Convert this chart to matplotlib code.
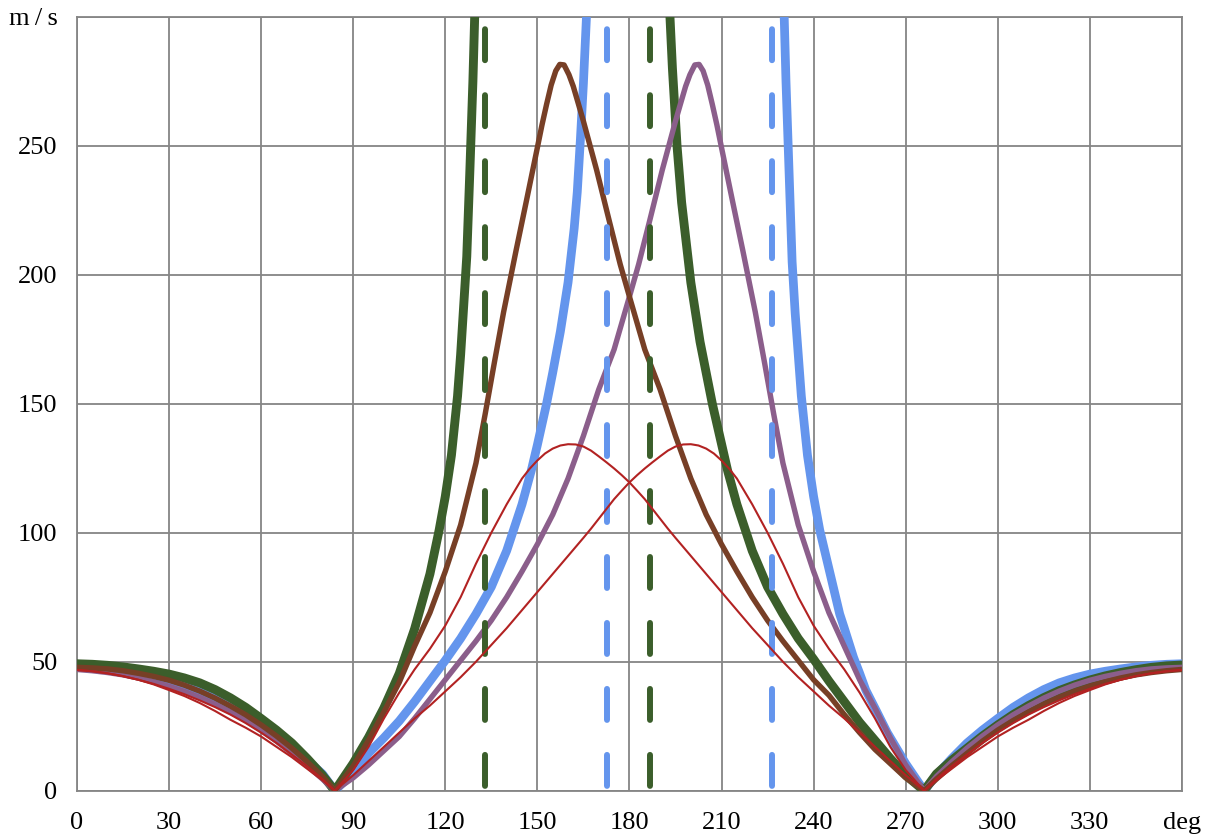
import numpy as np
import matplotlib.pyplot as plt

plt.rcParams['font.family'] = ['Liberation Serif', 'DejaVu Serif']
plt.rcParams['lines.scale_dashes'] = False

nan = np.nan

# 속도 곡선 (deg, m/s)
green_deg = [0, 5, 10, 15, 20, 25, 30, 35, 40, 45, 50, 55, 60, 65, 70, 75, 80, 84,
             90, 95, 100, 105, 110, 115, 118, 120, 122, 124, 125, 126, 127, 128, 129, 130, 131,
             160,
             192, 193, 194, 195.5, 197, 200, 203, 207, 212, 215, 220, 225, 230, 235, 240, 245,
             250, 255, 260, 265, 270, 276,
             280, 285, 290, 295, 300, 305, 310, 315, 320, 325, 330, 335, 340, 345, 350, 355, 360]
green_v = [49.2, 49.0, 48.6, 48.0, 47.2, 46.3, 45.2, 43.7, 41.8, 39.2, 36.0, 32.3, 28.0, 23.5, 18.5, 12.5, 6.0, 0,
           10.6, 20.7, 32.1, 45.4, 62.7, 84.0, 101, 114, 130, 153, 169, 188, 207, 240, 275, 318, 370,
           nan,
           345, 305, 280, 250, 228, 197, 174, 150, 124, 111, 93, 79, 68.5, 59, 51, 42.5,
           34.5, 26.5, 19.5, 12.5, 6.0, 0,
           6.5, 11.8, 16.5, 21.2, 25.5, 29.5, 33.0, 36.1, 38.8, 41.0, 42.9, 44.5, 45.8, 46.9, 47.8, 48.4, 48.7]

blue_deg = [0, 5, 10, 15, 20, 25, 30, 35, 40, 45, 50, 55, 60, 65, 70, 75, 80, 84,
            90, 95, 100, 105, 110, 115, 120, 125, 130, 135, 140, 145, 148, 150, 153, 155, 157.5,
            160, 162, 163, 164, 165, 166, 167,
            200,
            229, 230, 231, 232, 233, 234, 236, 238, 240, 242, 245, 248.5, 250, 253, 255, 257, 260,
            264, 270, 276,
            280, 285, 290, 295, 300, 305, 310, 315, 320, 325, 330, 335, 340, 345, 350, 355, 360]
blue_v = [48.7, 48.4, 47.8, 46.9, 45.8, 44.5, 42.9, 41.0, 38.8, 36.1, 33.0, 29.5, 25.5, 21.2, 16.5, 11.8, 6.5, 0,
          7.0, 14.5, 20.5, 27.0, 34.5, 42.5, 50.5, 59, 68.5, 79, 93, 111, 124, 134, 150, 162, 178,
          197, 218, 232, 252, 274, 300, 330,
          nan,
          370, 318, 275, 240, 205, 185, 153, 130, 114, 101, 86, 68.5, 63, 51.7, 45.5, 39, 32,
          22.5, 10.5, 0,
          6.0, 12.5, 18.5, 23.5, 28.0, 32.3, 36.0, 39.2, 41.8, 43.7, 45.2, 46.3, 47.2, 48.0, 48.6, 49.0, 49.2]

brown_deg = [0, 5, 10, 15, 20, 25, 30, 35, 40, 45, 50, 55, 60, 65, 70, 75, 80, 84,
             90, 95, 100, 105, 110, 115, 120, 125, 130, 133, 136, 139, 143, 146.5, 149.7, 151.5,
             153, 154.5, 156, 157.3, 158.7, 160.3, 161.7, 163.3, 165, 169.3, 173.6, 177, 180,
             185, 190, 195, 200, 205, 210, 215, 220, 225, 230, 235, 240, 245, 250, 255, 260, 265,
             270, 276,
             280, 285, 290, 295, 300, 305, 310, 315, 320, 325, 330, 335, 340, 345, 350, 355, 360]
brown_v = [47.8, 47.6, 47.2, 46.5, 45.5, 44.3, 42.8, 40.9, 38.6, 35.9, 32.8, 29.4, 25.5, 21.2, 16.5, 11.2, 5.5, 0,
           9.5, 19.5, 30.5, 42, 56, 69, 85, 103, 127, 146, 166, 185.5, 209, 229, 247.5, 258,
           266, 273.5, 279, 281.5, 281.3, 277.5, 273, 266.5, 259.5, 240.6, 220, 204, 191.5,
           171, 155.5, 137.5, 121, 107, 95.5, 85, 75, 66, 58, 50.5, 43, 37, 29.5, 22.5, 16, 10.5,
           5, 0,
           4.5, 9.7, 14.5, 19.2, 23.5, 27.2, 30.5, 33.5, 36.2, 38.5, 40.5, 42.2, 43.7, 44.9, 45.8, 46.5, 47.0]

purple_deg = [0, 5, 10, 15, 20, 25, 30, 35, 40, 45, 50, 55, 60, 65, 70, 75, 80, 84,
              90, 95, 100, 105, 110, 115, 120, 125, 130, 135, 140, 145, 150, 155, 160, 165, 170,
              175, 180, 183, 186.4, 190.7, 195, 196.7, 198.3, 199.7, 201.3, 202.7, 204, 205.5,
              207, 208.5, 210.3, 213.5, 217, 221, 224, 227, 230, 235, 240, 245, 250, 255, 260,
              265, 270, 276,
              280, 285, 290, 295, 300, 305, 310, 315, 320, 325, 330, 335, 340, 345, 350, 355, 360]
purple_v = [47.0, 46.5, 45.8, 44.9, 43.7, 42.2, 40.5, 38.5, 36.2, 33.5, 30.5, 27.2, 23.5, 19.2, 14.5, 9.7, 4.5, 0,
            5, 10, 15.5, 21, 28, 35.5, 43, 50.5, 58, 66, 75, 85, 95.5, 107, 121, 137.5, 155.5,
            171, 191.5, 204, 220, 240.6, 259.5, 266.5, 273, 277.5, 281.3, 281.5, 279, 273.5,
            266, 258, 247.5, 229, 209, 185.5, 166, 146, 127, 103, 85, 69, 56, 43, 32,
            20.5, 10, 0,
            5.5, 11.2, 16.5, 21.2, 25.5, 29.4, 32.8, 35.9, 38.6, 40.9, 42.8, 44.3, 45.5, 46.5, 47.2, 47.6, 47.8]

red_deg = [0, 5, 10, 15, 20, 25, 30, 35, 40, 45, 50, 55, 60, 65, 70, 75, 80, 84,
           90, 95, 100, 105, 110, 115, 120, 125, 130, 135, 140, 145, 147.5, 150, 152.5, 155,
           157.5, 160, 162.5, 165, 167.5, 170, 172.5, 175, 177.5, 180, 182.5, 185, 187.5, 190,
           192.5, 195, 197.5, 200, 202.5, 205, 207.5, 210, 212.5, 215, 220, 225, 230, 235, 240,
           245, 250, 255, 260, 265, 270, 276,
           280, 285, 290, 295, 300, 305, 310, 315, 320, 325, 330, 335, 340, 345, 350, 355, 360]
red1_v = [46.8, 46.3, 45.5, 44.4, 43.0, 41.2, 39.0, 36.7, 34.0, 30.9, 27.5, 24.4, 21.0, 17.0, 13.0, 8.5, 4.0, 0,
          8, 17, 28, 38, 47, 55, 64, 75, 88, 100, 111, 121, 124.8, 128, 130.7, 132.6,
          133.8, 134.3, 134.2, 133.4, 131.8, 129.6, 127.3, 124.9, 122.3, 119.5, 116.3, 113, 109.2, 105.4,
          101.6, 98, 94.5, 91, 87.5, 84, 80.5, 77, 73.5, 70, 63, 56.5, 50, 44, 38.5,
          33, 28, 22.5, 17, 11.5, 6, 0,
          4.5, 9.5, 14.0, 18.5, 22.5, 26.2, 29.5, 32.4, 35.0, 37.4, 39.5, 41.4, 43.0, 44.4, 45.5, 46.3, 46.8]
red2_v = [46.8, 46.3, 45.5, 44.4, 43.0, 41.4, 39.5, 37.4, 35.0, 32.4, 29.5, 26.2, 22.5, 18.5, 14.0, 9.5, 4.5, 0,
          6, 11.5, 17, 22.5, 28, 33, 38.5, 44, 50, 56.5, 63, 70, 73.5, 77, 80.5, 84,
          87.5, 91, 94.5, 98, 101.6, 105.4, 109.2, 113, 116.3, 119.5, 122.3, 124.9, 127.3, 129.6,
          131.8, 133.4, 134.2, 134.3, 133.8, 132.6, 130.7, 128, 124.8, 121, 111, 100, 88, 75, 64,
          55, 47, 38, 28, 17, 8, 0,
          4.0, 8.5, 13.0, 17.0, 21.0, 24.4, 27.5, 30.9, 34.0, 36.7, 39.0, 41.2, 43.0, 44.4, 45.5, 46.3, 46.8]

# 점근선 위치 (deg)
green_asym = [132.9, 186.7]
blue_asym = [172.8, 226.6]

x_ticks = [0, 30, 60, 90, 120, 150, 180, 210, 240, 270, 300, 330, 360]
x_labels = ['0', '30', '60', '90', '120', '150', '180', '210', '240', '270', '300', '330', 'deg']
y_ticks = [0, 50, 100, 150, 200, 250, 300]
y_labels = ['0', '50', '100', '150', '200', '250', 'm\u2009/\u2009s']

GREEN = '#3b5e2b'
BLUE = '#6495ed'
BROWN = '#773f26'
PURPLE = '#8b5e8b'
RED = '#b22222'
GRID = '#858585'

fig = plt.figure(figsize=(12.1, 8.34), dpi=100)
ax = fig.add_axes([0.0636, 0.0519, 0.9132, 0.9281])

kw = dict(solid_joinstyle='round', solid_capstyle='round')
ax.plot(blue_deg, blue_v, color=BLUE, lw=6.3, zorder=3, **kw)
ax.plot(green_deg, green_v, color=GREEN, lw=6.4, zorder=3.1, **kw)
ax.plot(purple_deg, purple_v, color=PURPLE, lw=3.9, zorder=3.2, **kw)
ax.plot(brown_deg, brown_v, color=BROWN, lw=3.9, zorder=3.3, **kw)

# 점선: 22.3pt 선, 25.2pt 간격
for x in green_asym:
    ax.plot([x, x], [300, 0], color=GREEN, lw=4.3, ls=(38.7, (22.3, 25.2)),
            dash_capstyle='round', zorder=3.4)
for x in blue_asym:
    ax.plot([x, x], [300, 0], color=BLUE, lw=4.3, ls=(38.7, (22.3, 25.2)),
            dash_capstyle='round', zorder=3.4)

ax.plot(red_deg, red1_v, color=RED, lw=1.5, zorder=3.5, **kw)
ax.plot(red_deg, red2_v, color=RED, lw=1.5, zorder=3.5, **kw)

ax.set_xlim(0, 360)
ax.set_ylim(0, 300)
ax.set_xticks(x_ticks)
ax.set_xticklabels(x_labels)
ax.set_yticks(y_ticks)
ax.set_yticklabels(y_labels)
ax.tick_params(axis='both', length=0, labelsize=19, colors='black')
ax.tick_params(axis='x', pad=15)
ax.tick_params(axis='y', pad=14)
ax.grid(True, color=GRID, lw=1.3)
ax.set_axisbelow(True)
for s in ax.spines.values():
    s.set_color(GRID)
    s.set_linewidth(1.3)

fig.savefig('out.png', dpi=100)
